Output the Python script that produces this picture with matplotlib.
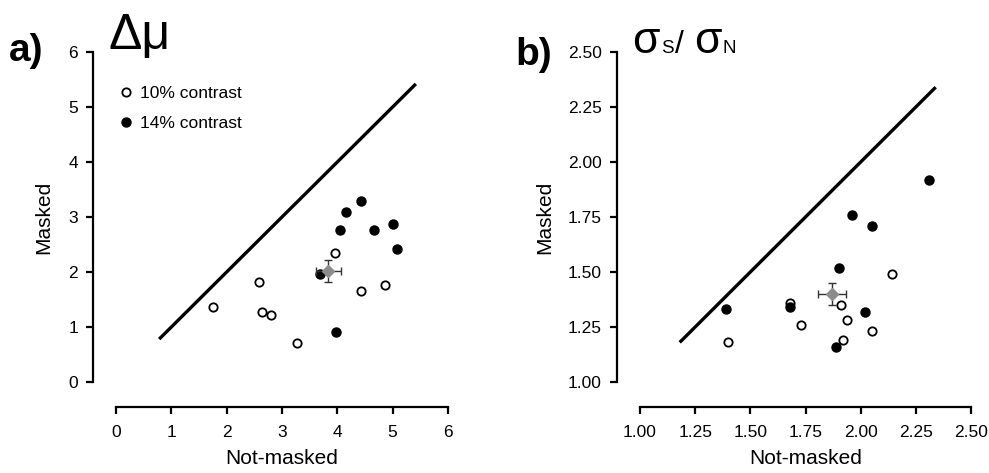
import matplotlib
matplotlib.use("Agg")
import matplotlib.pyplot as plt

plt.rcParams["font.family"] = ["Liberation Sans", "DejaVu Sans"]

# ---- panel a: delta mu ----
a_open_x = [1.76, 2.58, 2.63, 2.80, 3.27, 3.95, 4.42, 4.86]
a_open_y = [1.37, 1.82, 1.28, 1.21, 0.71, 2.35, 1.65, 1.76]
a_fill_x = [4.42, 4.16, 4.05, 4.67, 5.01, 5.07, 3.69, 3.97]
a_fill_y = [3.30, 3.09, 2.77, 2.77, 2.88, 2.42, 1.96, 0.91]
a_mean = (3.84, 2.02)
a_err = (0.23, 0.20)
a_diag = (0.78, 5.42)
a_ticks = [0, 1, 2, 3, 4, 5, 6]

# ---- panel b: sigma_S / sigma_N ----
b_open_x = [1.40, 1.68, 1.73, 1.91, 1.94, 2.05, 1.92, 2.14]
b_open_y = [1.18, 1.36, 1.26, 1.35, 1.28, 1.23, 1.19, 1.49]
b_fill_x = [2.31, 1.96, 2.05, 1.90, 1.39, 1.68, 2.02, 1.89]
b_fill_y = [1.92, 1.76, 1.71, 1.52, 1.33, 1.34, 1.32, 1.16]
b_mean = (1.87, 1.40)
b_err = (0.064, 0.051)
b_diag = (1.18, 2.34)
b_ticks = [1.00, 1.25, 1.50, 1.75, 2.00, 2.25, 2.50]

W, H = 989, 473
fig = plt.figure(figsize=(W / 100, H / 100), dpi=100)


def box(l, t, r, b):
    return [l / W, 1 - b / H, (r - l) / W, (b - t) / H]


def style(ax, ticks, lo, hi, fmt):
    pad = (hi - lo) * 0.0417
    ax.set_xlim(lo - pad, hi + pad)
    ax.set_ylim(lo - pad, hi + pad)
    for s in ["top", "right"]:
        ax.spines[s].set_visible(False)
    ax.spines["left"].set_position(("outward", 6.5))
    ax.spines["bottom"].set_position(("outward", 8))
    for s in ["left", "bottom"]:
        ax.spines[s].set_bounds(lo, hi)
        ax.spines[s].set_linewidth(1.6)
    ax.set_xticks(ticks)
    ax.set_yticks(ticks)
    ax.set_xticklabels([fmt.format(t) for t in ticks])
    ax.set_yticklabels([fmt.format(t) for t in ticks])
    ax.tick_params(length=5, width=1.6, labelsize=12.5, pad=6)
    ax.tick_params(axis="x", pad=8)
    ax.set_xlabel("Not-masked", fontsize=15)
    ax.set_ylabel("Masked", fontsize=15)
    ax.patch.set_visible(False)


def draw(ax, ox, oy, fx, fy, mean, err, diag):
    ax.plot(diag, diag, color="black", lw=2.4, solid_capstyle="butt")
    ax.plot(ox, oy, "o", ms=6, mfc="white", mec="black", mew=1.3, ls="none",
            label="10% contrast")
    ax.plot(fx, fy, "o", ms=6.5, mfc="black", mec="black", ls="none",
            label="14% contrast")
    ax.errorbar([mean[0]], [mean[1]], xerr=[err[0]], yerr=[err[1]], fmt="D",
                ms=6, mfc="#8c8c8c", mec="#8c8c8c", ecolor="#333333",
                elinewidth=1.0, capsize=3, capthick=1.0, zorder=5)


ax_a = fig.add_axes(box(102.2, 38.25, 461.8, 395.75))
style(ax_a, a_ticks, 0, 6, "{:g}")
draw(ax_a, a_open_x, a_open_y, a_fill_x, a_fill_y, a_mean, a_err, a_diag)
ax_a.xaxis.set_label_coords(0.5, -0.15)
ax_a.yaxis.set_label_coords(-0.135, 0.5)
ax_a.legend(loc="upper left", bbox_to_anchor=(0.032, 0.885), frameon=False,
            fontsize=12.5, handlelength=0.6, handletextpad=0.5,
            labelspacing=0.85, borderaxespad=0)

ax_b = fig.add_axes(box(626.2, 38.25, 984.8, 395.75))
style(ax_b, b_ticks, 1.0, 2.5, "{:.2f}")
draw(ax_b, b_open_x, b_open_y, b_fill_x, b_fill_y, b_mean, b_err, b_diag)
ax_b.xaxis.set_label_coords(0.5, -0.15)
ax_b.yaxis.set_label_coords(-0.2, 0.5)


def ftext(x, y, s, **kw):
    fig.text(x / W, 1 - y / H, s, ha="left", va="baseline", **kw)


# panel letters and titles
ftext(9, 61, "a)", fontsize=28, fontweight="bold")
ftext(515, 65, "b)", fontsize=28, fontweight="bold")
ftext(108, 49, "\u0394\u03bc", fontsize=36)
ftext(632, 53, "\u03c3", fontsize=32)
ftext(661, 53, "S", fontsize=13.5)
ftext(675, 53, "/", fontsize=23)
ftext(694, 53, "\u03c3", fontsize=32)
ftext(722, 53, "N", fontsize=13.5)

fig.savefig("out.png", dpi=100)
